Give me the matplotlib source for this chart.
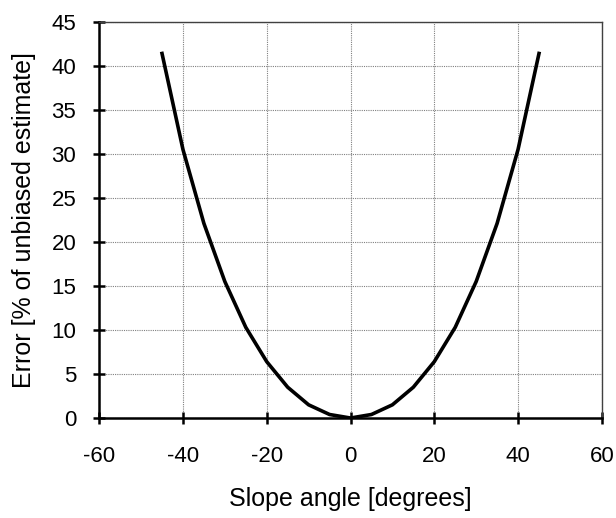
import matplotlib.pyplot as plt

plt.rcParams['font.family'] = ['Liberation Sans', 'DejaVu Sans']
plt.rcParams['axes.unicode_minus'] = False

# Slope angle vs. error
slope_angle = [-45, -40, -35, -30, -25, -20, -15, -10, -5, 0,
               5, 10, 15, 20, 25, 30, 35, 40, 45]
error_pct = [41.4, 30.5, 22.1, 15.5, 10.3, 6.4, 3.5, 1.5, 0.4, 0.0,
             0.4, 1.5, 3.5, 6.4, 10.3, 15.5, 22.1, 30.5, 41.4]

fig = plt.figure(figsize=(6.16, 5.18), dpi=100)
ax = fig.add_axes([0.161, 0.193, 0.816, 0.765])

ax.plot(slope_angle, error_pct, color='black', linewidth=2.6)

ax.set_xlim(-60, 60)
ax.set_ylim(0, 45)
ax.set_xticks(range(-60, 61, 20))
ax.set_yticks(range(0, 46, 5))
ax.grid(True, color='#808080', linestyle=(0, (1, 1)), linewidth=0.8)
ax.set_axisbelow(True)

ax.spines['left'].set_linewidth(1.8)
ax.spines['bottom'].set_linewidth(1.8)
ax.spines['top'].set_color('#404040')
ax.spines['right'].set_color('#404040')
ax.spines['top'].set_linewidth(1.0)
ax.spines['right'].set_linewidth(1.0)

ax.tick_params(axis='both', direction='inout', length=9, width=1.8, labelsize=16)
ax.tick_params(axis='x', pad=16)
ax.tick_params(axis='y', pad=12)

ax.set_xlabel('Slope angle [degrees]', fontsize=18, labelpad=14)
ax.set_ylabel('Error [% of unbiased estimate]', fontsize=18, labelpad=11)

plt.savefig('out.png', dpi=100)
